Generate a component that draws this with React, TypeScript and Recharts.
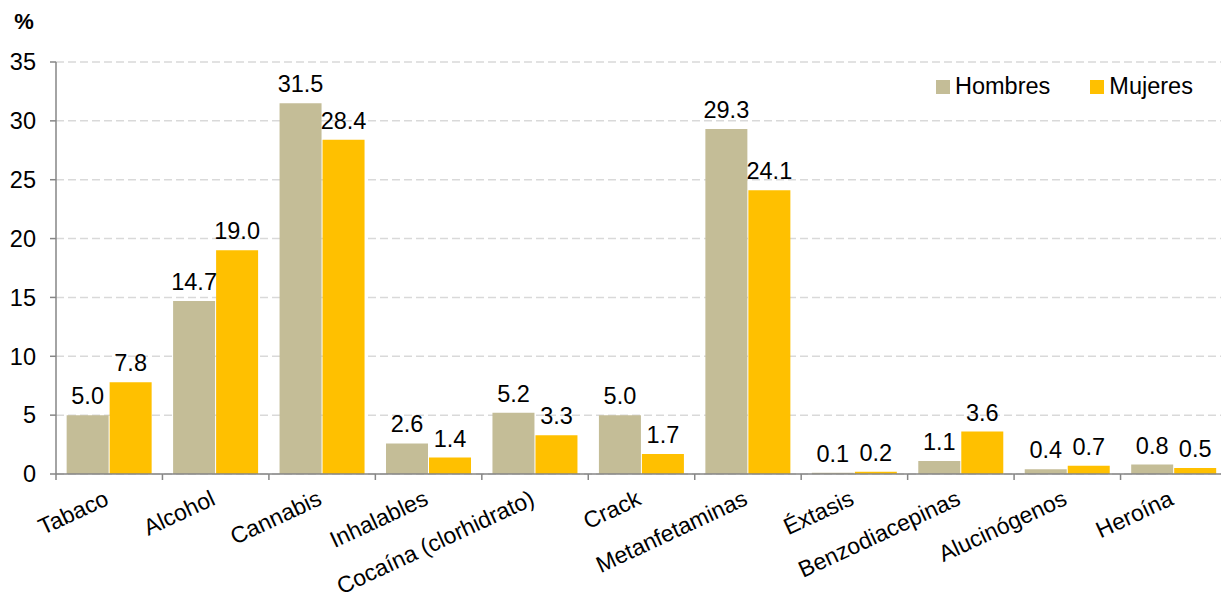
import { BarChart, Bar, XAxis, YAxis, CartesianGrid, Legend, LabelList } from "recharts";

const categories = [
  "Tabaco",
  "Alcohol",
  "Cannabis",
  "Inhalables",
  "Cocaína (clorhidrato)",
  "Crack",
  "Metanfetaminas",
  "Éxtasis",
  "Benzodiacepinas",
  "Alucinógenos",
  "Heroína",
];
const hombres = [5.0, 14.7, 31.5, 2.6, 5.2, 5.0, 29.3, 0.1, 1.1, 0.4, 0.8];
const mujeres = [7.8, 19.0, 28.4, 1.4, 3.3, 1.7, 24.1, 0.2, 3.6, 0.7, 0.5];
const yTicks = [0, 5, 10, 15, 20, 25, 30, 35];

const seriesInfo = [
  { key: "hombres", name: "Hombres", color: "#c4bd97" },
  { key: "mujeres", name: "Mujeres", color: "#ffc000" },
];

const data = categories.map((name, i) => ({ name, hombres: hombres[i], mujeres: mujeres[i] }));

const FONT = "'Liberation Sans', Arial, sans-serif";
const FS = 23.5;
const AXIS = "#868686";

// x-axis label plus a tick mark at the left edge of each category band
function CategoryTick(props: any) {
  const { x, y, payload } = props;
  const half = payload.offset || 0;
  const tx = x + 1;
  const ty = y + 30;
  return (
    <g>
      <line x1={x - half} y1={y} x2={x - half} y2={y + 6} stroke={AXIS} strokeWidth={1.5} />
      <text
        x={tx}
        y={ty}
        textAnchor="end"
        transform={`rotate(-25, ${tx}, ${ty})`}
        fontSize={23}
        fontFamily={FONT}
        fill="#000"
      >
        {payload.value}
      </text>
    </g>
  );
}

function LegendContent() {
  return (
    <div style={{ display: "flex", alignItems: "center", fontFamily: FONT, fontSize: FS, color: "#000" }}>
      {seriesInfo.map((s, i) => (
        <div key={s.key} style={{ display: "flex", alignItems: "center", marginRight: i === 0 ? 40 : 0 }}>
          <span style={{ display: "inline-block", width: 14, height: 14, background: s.color, marginRight: 5 }} />
          <span>{s.name}</span>
        </div>
      ))}
    </div>
  );
}

export default function App() {
  return (
    <div style={{ position: "fixed", left: 0, top: 0, width: 1221, height: 601, overflow: "hidden", background: "#fff" }}>
      <BarChart
        width={1232}
        height={601}
        data={data}
        margin={{ top: 62, right: 5, left: 0, bottom: 0 }}
        barCategoryGap="10%"
        barGap={1}
      >
        <CartesianGrid vertical={false} stroke="#d9d9d9" strokeDasharray="8 4" strokeWidth={1.5} />
        <XAxis
          dataKey="name"
          interval={0}
          height={127}
          tickSize={0}
          tickMargin={0}
          axisLine={{ stroke: AXIS, strokeWidth: 1.5 }}
          tickLine={false}
          tick={<CategoryTick />}
        />
        <YAxis
          domain={[0, 35]}
          ticks={yTicks}
          width={56}
          tickSize={6}
          tickMargin={14}
          axisLine={{ stroke: AXIS, strokeWidth: 1.5 }}
          tickLine={{ stroke: AXIS, strokeWidth: 1.5 }}
          tick={{ fill: "#000", fontSize: FS, fontFamily: FONT }}
          label={{
            value: "%",
            position: "top",
            offset: 33,
            dx: -4,
            fill: "#000",
            fontSize: 22,
            fontWeight: "bold",
            fontFamily: FONT,
          }}
        />
        <Legend
          layout="horizontal"
          verticalAlign="middle"
          align="center"
          wrapperStyle={{ top: 73, left: 936, width: "auto" }}
          content={<LegendContent />}
        />
        {seriesInfo.map((s) => (
          <Bar key={s.key} dataKey={s.key} name={s.name} fill={s.color} isAnimationActive={false}>
            <LabelList
              dataKey={s.key}
              position="top"
              offset={11}
              formatter={(v: any) => Number(v).toFixed(1)}
              fill="#000"
              fontSize={FS}
              fontFamily={FONT}
            />
          </Bar>
        ))}
      </BarChart>
    </div>
  );
}
